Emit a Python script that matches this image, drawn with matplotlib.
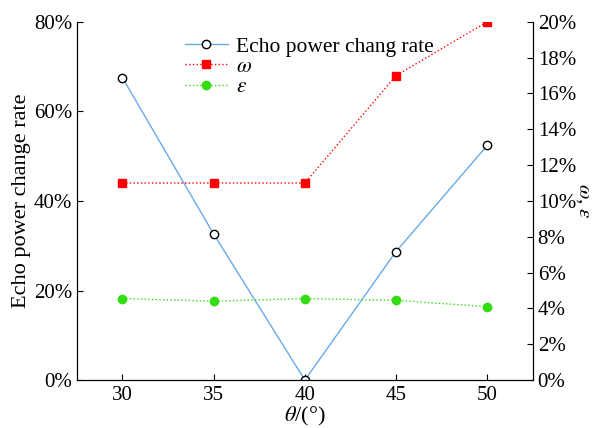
import matplotlib.pyplot as plt
from matplotlib.ticker import PercentFormatter

plt.rcParams['font.family'] = ['Liberation Serif', 'DejaVu Serif']
plt.rcParams['mathtext.fontset'] = 'stix'

theta = [30, 35, 40, 45, 50]
echo_rate = [67.5, 32.6, 0.0, 28.7, 52.4]   # 左轴 %
omega = [11.0, 11.0, 11.0, 17.0, 20.0]      # 右轴 %
eps = [4.55, 4.4, 4.55, 4.45, 4.1]          # 右轴 %

fig = plt.figure(figsize=(5.96, 4.28), dpi=100)
ax = fig.add_axes([0.129, 0.112, 0.765, 0.837])
ax2 = ax.twinx()

l1, = ax.plot(theta, echo_rate, color='#67abe8', lw=1.0, marker='o', ms=6,
              mfc='white', mec='black', mew=1.0, label='Echo power chang rate')
l2, = ax2.plot(theta, omega, color='red', lw=1.0, ls=':', marker='s', ms=6,
               mfc='red', mec='red', label=r'$\omega$')
l3, = ax2.plot(theta, eps, color='#33dd11', lw=1.0, ls=':', marker='o', ms=6,
               mfc='#33dd11', mec='#33dd11', label=r'$\varepsilon$')

ax.set_xlim(27.5, 52.5)
ax.set_ylim(0, 80)
ax2.set_ylim(0, 20)
ax.set_xticks(theta)
ax.set_yticks(range(0, 81, 20))
ax2.set_yticks(range(0, 21, 2))
ax.yaxis.set_major_formatter(PercentFormatter(decimals=0))
ax2.yaxis.set_major_formatter(PercentFormatter(decimals=0))

for a in (ax, ax2):
    a.spines['top'].set_visible(False)
    a.tick_params(direction='in', labelsize=15, length=4)
ax.tick_params(axis='x', pad=4)
ax.set_xlabel(r'$\theta$/(°)', fontsize=16, labelpad=0)
ax.set_ylabel('Echo power change rate', fontsize=16, labelpad=2)
ax2.set_ylabel(r'$\omega$, $\varepsilon$', fontsize=15, rotation=-90, labelpad=12)

ax.legend(handles=[l1, l2, l3], loc='upper left', bbox_to_anchor=(0.237, 0.958),
          frameon=False, fontsize=15.5, handlelength=2.0, handletextpad=0.35,
          labelspacing=0.0, borderpad=0, borderaxespad=0)

fig.savefig('out.png', dpi=100)
